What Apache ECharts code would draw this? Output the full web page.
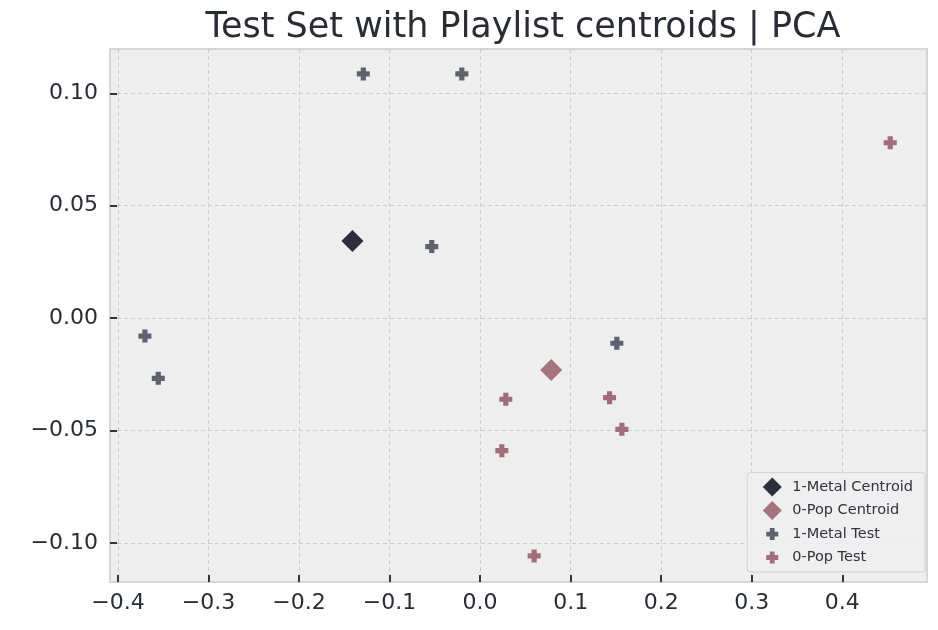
<!DOCTYPE html>
<html>
<head>
<meta charset="utf-8">
<script src="https://cdn.jsdelivr.net/npm/echarts@6/dist/echarts.min.js"></script>
<style>
  html, body { margin: 0; padding: 0; background: #fff; }
  #chart { width: 938px; height: 630px; }
</style>
</head>
<body>
<div id="chart"></div>
<script>
// values
const metalCentroid = [[-0.141, 0.0343]];
const popCentroid = [[0.0785, -0.0231]];
const metalTest = [
  [-0.129, 0.1086], [-0.0202, 0.1086], [-0.0534, 0.0318],
  [-0.3702, -0.0080], [-0.3555, -0.0268], [0.151, -0.0112]
];
const popTest = [
  [0.453, 0.078], [0.0284, -0.0361], [0.143, -0.0354],
  [0.1566, -0.0495], [0.024, -0.059], [0.0597, -0.1058]
];
const xTicks = [-0.4, -0.3, -0.2, -0.1, 0.0, 0.1, 0.2, 0.3, 0.4];
const yTicks = [-0.10, -0.05, 0.00, 0.05, 0.10];

const plusPath = 'path://M3,0H7V3H10V7H7V10H3V7H0V3H3Z';
// legend icons get stretched to the item box, so pad the paths with empty moves
const diamondLegend = 'path://M-2.9,5M12.9,5M5,0L10,5L5,10L0,5Z';
const plusLegend = 'path://M-7.5,-2.9M17.5,12.9M3,0H7V3H10V7H7V10H3V7H0V3H3Z';
const font = 'DejaVu Sans';

const chart = echarts.init(document.getElementById('chart'));

const axisCommon = {
  axisLine: { show: true, onZero: false, lineStyle: { color: '#d6d6d6', width: 2 } },
  axisTick: { show: true, inside: true, length: 7, lineStyle: { color: '#3a3040', width: 2 } },
  splitLine: { show: true, lineStyle: { color: '#cbcbcb', type: [4, 3], width: 1 } }
};

const option = {
  animation: false,
  backgroundColor: '#ffffff',
  title: {
    text: 'Test Set with Playlist centroids | PCA',
    left: 518,
    top: 5,
    textAlign: 'center',
    textStyle: { fontFamily: font, fontSize: 35, fontWeight: 'normal', color: '#2b2b36' }
  },
  grid: {
    left: 110, right: 11, top: 49, bottom: 48,
    show: true, backgroundColor: '#eeeeee', borderColor: '#d6d6d6', borderWidth: 2
  },
  xAxis: Object.assign({}, axisCommon, {
    type: 'value',
    position: 'bottom',
    min: -0.4088,
    max: 0.4936,
    axisTick: Object.assign({}, axisCommon.axisTick, { customValues: xTicks }),
    axisLabel: {
      customValues: xTicks,
      fontFamily: font, fontSize: 22, color: '#2b2b36', margin: 10,
      formatter: v => v.toFixed(1).replace('-', '\u2212')
    }
  }),
  yAxis: Object.assign({}, axisCommon, {
    type: 'value',
    min: -0.1174,
    max: 0.1197,
    axisTick: Object.assign({}, axisCommon.axisTick, { customValues: yTicks }),
    axisLabel: {
      customValues: yTicks,
      fontFamily: font, fontSize: 22, color: '#2b2b36', margin: 12,
      formatter: v => (Math.abs(v) < 1e-9 ? 0 : v).toFixed(2).replace('-', '\u2212')
    }
  }),
  legend: {
    orient: 'vertical',
    right: 13,
    bottom: 58,
    itemWidth: 30,
    itemHeight: 19,
    itemGap: 4.5,
    padding: [5, 12, 5, 10],
    backgroundColor: 'rgba(238,238,238,0.85)',
    borderColor: '#d2d2d2',
    borderWidth: 1,
    borderRadius: 3,
    textStyle: { fontFamily: font, fontSize: 14.5, color: '#33303c' },
    data: [
      { name: '1-Metal Centroid', icon: diamondLegend },
      { name: '0-Pop Centroid', icon: diamondLegend },
      { name: '1-Metal Test', icon: plusLegend },
      { name: '0-Pop Test', icon: plusLegend }
    ]
  },
  series: [
    {
      name: '1-Metal Centroid', type: 'scatter', data: metalCentroid,
      symbol: 'diamond', symbolSize: 22, itemStyle: { color: '#2d2d3b', opacity: 1 }
    },
    {
      name: '0-Pop Centroid', type: 'scatter', data: popCentroid,
      symbol: 'diamond', symbolSize: 22, itemStyle: { color: '#a5747e', opacity: 1 }
    },
    {
      name: '1-Metal Test', type: 'scatter', data: metalTest,
      symbol: plusPath, symbolSize: 13, itemStyle: { color: '#5d626e', opacity: 1 }
    },
    {
      name: '0-Pop Test', type: 'scatter', data: popTest,
      symbol: plusPath, symbolSize: 13, itemStyle: { color: '#9f6e79', opacity: 1 }
    }
  ]
};

chart.setOption(option);
</script>
</body>
</html>
